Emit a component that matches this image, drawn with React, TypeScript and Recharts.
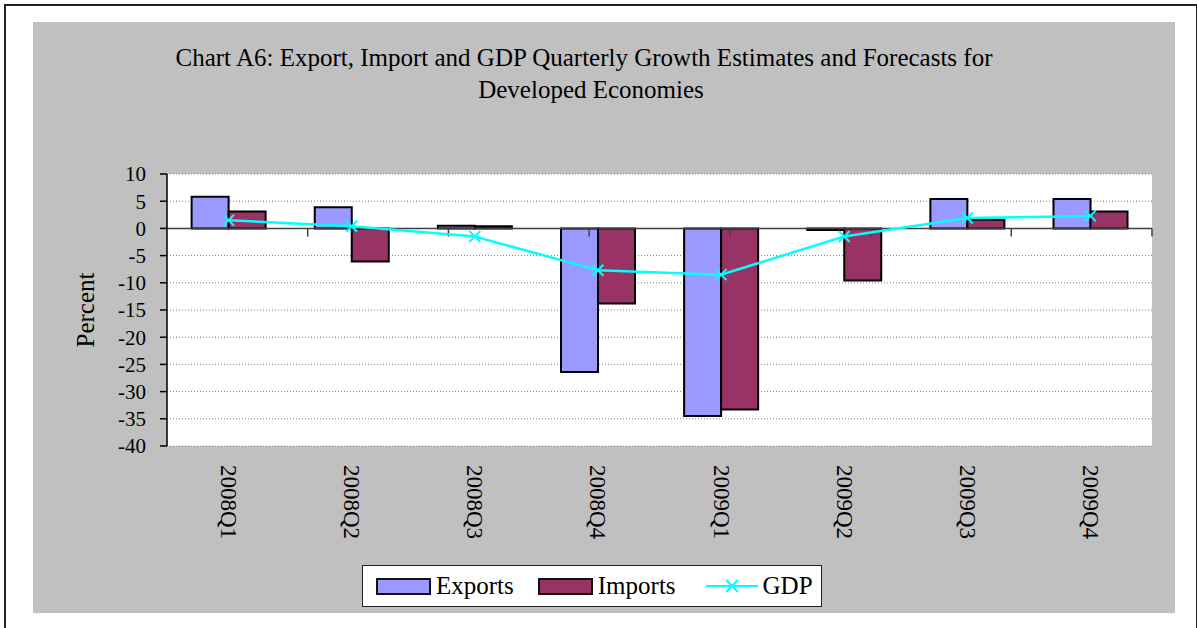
import { ComposedChart, Bar, Line, XAxis, YAxis, CartesianGrid, ReferenceLine, ReferenceArea, Legend } from 'recharts';

const quarters = ['2008Q1', '2008Q2', '2008Q3', '2008Q4', '2009Q1', '2009Q2', '2009Q3', '2009Q4'];
const exportsGrowth = [5.8, 3.9, 0.5, -26.4, -34.5, -0.3, 5.4, 5.4];
const importsGrowth = [3.1, -6.1, 0.4, -13.8, -33.3, -9.6, 1.6, 3.1];
const gdpGrowth = [1.5, 0.4, -1.5, -7.7, -8.5, -1.5, 1.9, 2.3];
const yTicks = [-40, -35, -30, -25, -20, -15, -10, -5, 0, 5, 10];
const seriesNames = ['Exports', 'Imports', 'GDP'];

const titleLines = [
  'Chart A6: Export, Import and GDP Quarterly Growth Estimates and Forecasts for',
  'Developed Economies',
];

const data = quarters.map((q, i) => ({
  quarter: q,
  Exports: exportsGrowth[i],
  Imports: importsGrowth[i],
  GDP: gdpGrowth[i],
}));

// category boundaries on the zero line (numeric helper axis, 0..n)
const boundaries = quarters.map((_, i) => i + 1);

const FONT = '"Liberation Serif", "Times New Roman", serif';
const EXPORT_COLOR = '#9999FF';
const IMPORT_COLOR = '#993366';
const GDP_COLOR = '#00FFFF';

function QuarterTick({ x, y, payload }: any) {
  const ty = y + 19;
  return (
    <text
      x={x}
      y={ty}
      transform={`rotate(90 ${x} ${ty})`}
      textAnchor="start"
      dominantBaseline="central"
      fontSize={23}
      fontFamily={FONT}
      fill="#000"
    >
      {payload.value}
    </text>
  );
}

function CrossDot({ cx, cy, index }: any) {
  const s = 5.5;
  return (
    <path
      key={`gdp-dot-${index}`}
      d={`M${cx - s},${cy - s}L${cx + s},${cy + s}M${cx - s},${cy + s}L${cx + s},${cy - s}`}
      stroke={GDP_COLOR}
      strokeWidth={2}
      fill="none"
    />
  );
}

const legendGaps = [13, 24, 30];

function LegendBox({ payload }: any) {
  const items = [...(payload || [])].sort(
    (a: any, b: any) => seriesNames.indexOf(a.value) - seriesNames.indexOf(b.value)
  );
  return (
    <div
      style={{
        width: 458,
        height: 40,
        background: '#fff',
        border: '1px solid #222',
        display: 'flex',
        alignItems: 'center',
        fontFamily: FONT,
        fontSize: 25,
        color: '#000',
      }}
    >
      {items.map((entry: any, i: number) => (
        <div key={entry.value} style={{ display: 'flex', alignItems: 'center', marginLeft: legendGaps[i] }}>
          {entry.type === 'line' ? (
            <svg width={52} height={18}>
              <line x1={0} y1={9} x2={52} y2={9} stroke={entry.color} strokeWidth={2} />
              <path d="M20,3L32,15M20,15L32,3" stroke={entry.color} strokeWidth={2} />
            </svg>
          ) : (
            <span
              style={{
                display: 'inline-block',
                width: 51,
                height: 13,
                border: '2px solid #111',
                background: entry.color,
              }}
            />
          )}
          <span style={{ marginLeft: 5, lineHeight: '30px' }}>{entry.value}</span>
        </div>
      ))}
    </div>
  );
}

export default function App() {
  return (
    <div style={{ position: 'absolute', left: 0, top: 0, width: 1197, height: 628, background: '#fff', overflow: 'hidden' }}>
      <div style={{ position: 'absolute', left: 4, top: 4, width: 1190, height: 660, border: '2px solid #222' }} />
      <div style={{ position: 'absolute', left: 33, top: 22, width: 1142, height: 591, background: '#C0C0C0' }}>
        <ComposedChart
          width={1142}
          height={591}
          data={data}
          margin={{ top: 152, right: 23, left: 74, bottom: 67 }}
          barCategoryGap="20%"
          barGap={0}
        >
          <CartesianGrid
            vertical={false}
            fill="#fff"
            fillOpacity={1}
            stroke="#808080"
            strokeDasharray="1 2"
          />
          <XAxis
            dataKey="quarter"
            axisLine={false}
            tickLine={false}
            tickSize={0}
            tickMargin={0}
            height={100}
            interval={0}
            tick={<QuarterTick />}
          />
          <XAxis xAxisId="num" type="number" domain={[0, quarters.length]} allowDataOverflow hide />
          <YAxis
            domain={[-40, 10]}
            ticks={yTicks}
            interval={0}
            width={60}
            axisLine={{ stroke: '#000', strokeWidth: 1.5 }}
            tickLine={{ stroke: '#000', strokeWidth: 1.5 }}
            tickSize={7}
            tickMargin={14}
            tick={{ fontSize: 21, fontFamily: FONT, fill: '#000' }}
            label={{
              value: 'Percent',
              angle: -90,
              position: 'left',
              offset: 22,
              style: { textAnchor: 'middle', fontSize: 25, fontFamily: FONT, fill: '#000' },
            }}
          />
          <ReferenceArea
            xAxisId="num"
            x1={0}
            x2={quarters.length}
            y1={-40}
            y2={10}
            fill="none"
            stroke="#808080"
            strokeWidth={2}
          />
          <ReferenceLine y={0} stroke="#404040" strokeWidth={1.5} />
          {boundaries.map((b) => (
            <ReferenceLine
              key={`bt-${b}`}
              xAxisId="num"
              segment={[{ x: b, y: 0 }, { x: b, y: -1.5 }]}
              stroke="#404040"
              strokeWidth={1.5}
              ifOverflow="visible"
            />
          ))}
          <Bar dataKey="Exports" fill={EXPORT_COLOR} stroke="#000" strokeWidth={2} isAnimationActive={false} />
          <Bar dataKey="Imports" fill={IMPORT_COLOR} stroke="#000" strokeWidth={2} isAnimationActive={false} />
          <Line
            dataKey="GDP"
            type="linear"
            stroke={GDP_COLOR}
            strokeWidth={2.5}
            dot={CrossDot}
            activeDot={false}
            legendType="line"
            isAnimationActive={false}
          />
          <Legend
            verticalAlign="middle"
            align="center"
            layout="horizontal"
            content={LegendBox}
            wrapperStyle={{ left: 329, top: 543, width: 460, height: 42 }}
          />
        </ComposedChart>
      </div>
      {titleLines.map((line, i) => (
        <div
          key={line}
          style={{
            position: 'absolute',
            left: i === 0 ? 84 : 91,
            top: 42 + i * 31.5,
            width: 1000,
            textAlign: 'center',
            fontFamily: FONT,
            fontSize: 25,
            lineHeight: '32px',
            color: '#000',
            whiteSpace: 'nowrap',
          }}
        >
          {line}
        </div>
      ))}
    </div>
  );
}
